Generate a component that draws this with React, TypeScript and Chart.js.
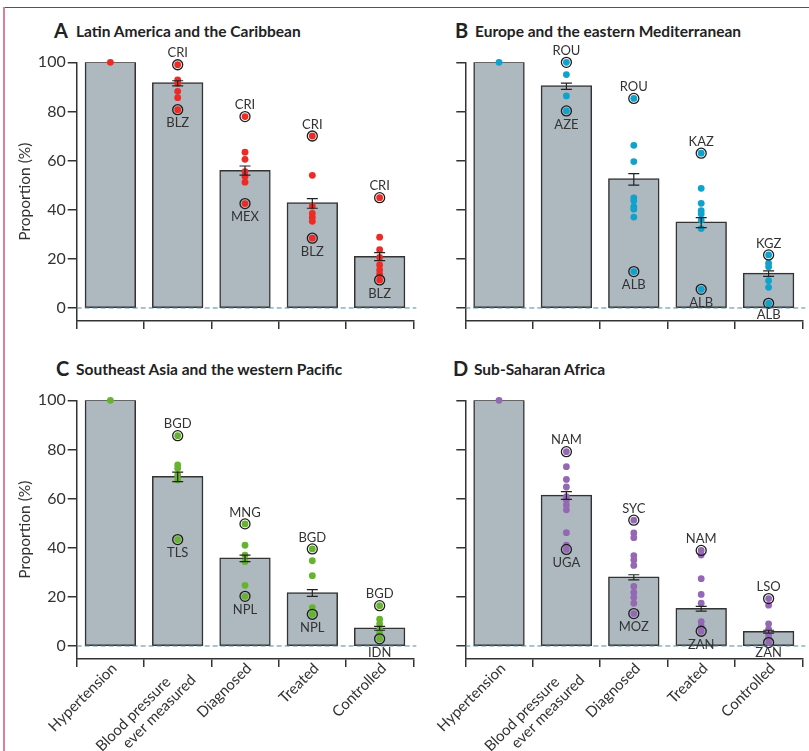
import {useEffect, useRef} from 'react'
import Chart from 'chart.js/auto';

const categories = ['Hypertension', 'Blood pressure ever measured', 'Diagnosed', 'Treated', 'Controlled'];
// trailing nbsp pushes the first line back along the slant, as in the original
const tickLabels = ['Hypertension', ['Blood pressure\u00a0\u00a0\u00a0\u00a0\u00a0', 'ever measured'], 'Diagnosed', 'Treated', 'Controlled'];
const yTicks = [0, 20, 40, 60, 80, 100];

// A - Latin America and the Caribbean
const latinBars = [100, 91.6, 55.9, 42.7, 20.9];
const latinErrLow = [100, 90.4, 54.1, 40.6, 19.3];
const latinErrHigh = [100, 92.5, 57.8, 44.5, 22.5];
const latinDots = [[100], [92.8, 91.5, 88.2, 85.6], [63.4, 60.5, 55.5, 53.5, 51.2], [54, 41.5, 38.5, 36.9, 35.3], [28.8, 23.7, 20.6, 17.5, 15.5, 13.8]];
const latinTop = [null, 99, 77.9, 70, 44.9];
const latinTopCodes = [null, 'CRI', 'CRI', 'CRI', 'CRI'];
const latinBottom = [null, 80.7, 42.5, 28.4, 11.4];
const latinBottomCodes = [null, 'BLZ', 'MEX', 'BLZ', 'BLZ'];

// B - Europe and the eastern Mediterranean
const europeBars = [100, 90.4, 52.5, 34.9, 14];
const europeErrLow = [100, 89, 50, 32.7, 12.9];
const europeErrHigh = [100, 91.5, 54.7, 36.8, 15.1];
const europeDots = [[100], [95, 86.3], [66.2, 59.6, 44.8, 43.6, 41.2, 40.2, 37], [48.7, 42.6, 39.6, 38.3, 35.8, 32.3], [18.2, 16.8, 11.1, 8.4]];
const europeTop = [null, 100, 85.3, 63, 21.6];
const europeTopCodes = [null, 'ROU', 'ROU', 'KAZ', 'KGZ'];
const europeBottom = [null, 80.2, 14.8, 7.6, 1.9];
const europeBottomCodes = [null, 'AZE', 'ALB', 'ALB', 'ALB'];

// C - Southeast Asia and the western Pacific
const asiaBars = [100, 68.9, 35.7, 21.6, 7.2];
const asiaErrLow = [100, 66.9, 34.3, 20.2, 6.4];
const asiaErrHigh = [100, 70.8, 37, 22.9, 8];
const asiaDots = [[100], [73.7, 72.3, 69.6, 67.6], [41, 37, 34.3, 24.7], [34.7, 28.6, 15.6], [10.9, 9, 6.5, 5.2]];
const asiaTop = [null, 85.6, 49.7, 39.5, 16.4];
const asiaTopCodes = [null, 'BGD', 'MNG', 'BGD', 'BGD'];
const asiaBottom = [null, 43.3, 20.2, 12.9, 2.9];
const asiaBottomCodes = [null, 'TLS', 'NPL', 'NPL', 'IDN'];

// D - Sub-Saharan Africa
const africaBars = [100, 61.3, 28, 15.2, 5.8];
const africaErrLow = [100, 59.7, 26.9, 14.2, 5.2];
const africaErrHigh = [100, 62.8, 29, 16.1, 6.4];
const africaDots = [[100], [73, 67.8, 64.7, 60.8, 59.4, 57.4, 55.4, 46.1, 41], [46, 44.1, 36.8, 35, 32.8, 24.2, 21.8, 19.8, 17.4], [37, 27.4, 21, 17.4, 9.9, 8.1], [16.6, 9, 6.8, 4.5, 3.1]];
const africaTop = [null, 79.1, 51.2, 38.9, 19.3];
const africaTopCodes = [null, 'NAM', 'SYC', 'NAM', 'LSO'];
const africaBottom = [null, 39.3, 13.2, 6, 1.4];
const africaBottomCodes = [null, 'UGA', 'MOZ', 'ZAN', 'ZAN'];

const FONT = 'Lato';
const INK = '#333333';

function toPoints(values) {
  return values.flatMap((v, i) => (v === null ? [] : [{x: categories[i], y: v}]));
}

function Panel(props) {
  const {left, top, width, height, padTop, padRight, axisWidth, axisHeight, showY, showX, color} = props;
  const {bars, errLow, errHigh, dots, topVals, topCodes, bottomVals, bottomCodes} = props;
  const chartRef = useRef(null);

  useEffect(() => {
    const overlay = {
      id: 'overlay',
      afterDatasetsDraw(chart) {
        const {ctx, chartArea, scales} = chart;
        const x = scales.x;
        const y = scales.y;
        ctx.save();

        // dashed line at zero
        ctx.strokeStyle = '#4f8ba3';
        ctx.lineWidth = 1;
        ctx.setLineDash([5, 3]);
        ctx.beginPath();
        ctx.moveTo(chartArea.left, y.getPixelForValue(0));
        ctx.lineTo(chartArea.right + 3, y.getPixelForValue(0));
        ctx.stroke();
        ctx.setLineDash([]);

        // error bars
        ctx.strokeStyle = '#222222';
        ctx.lineWidth = 1.2;
        bars.forEach((b, i) => {
          if (errLow[i] === errHigh[i]) return;
          const cx = x.getPixelForValue(i);
          const lo = y.getPixelForValue(errLow[i]);
          const hi = y.getPixelForValue(errHigh[i]);
          ctx.beginPath();
          ctx.moveTo(cx - 5.5, hi);
          ctx.lineTo(cx + 5.5, hi);
          ctx.moveTo(cx, hi);
          ctx.lineTo(cx, lo);
          ctx.moveTo(cx - 5.5, lo);
          ctx.lineTo(cx + 5.5, lo);
          ctx.stroke();
        });

        // country codes above the highest and below the lowest ring
        ctx.font = `13px ${FONT}`;
        ctx.fillStyle = INK;
        ctx.textAlign = 'center';
        ctx.textBaseline = 'middle';
        topVals.forEach((v, i) => {
          if (v === null) return;
          ctx.fillText(topCodes[i], x.getPixelForValue(i), y.getPixelForValue(v) - 11.5);
        });
        bottomVals.forEach((v, i) => {
          if (v === null) return;
          // low labels stop just short of the x axis line
          const labelY = Math.min(y.getPixelForValue(v) + 13.5, y.getPixelForValue(0) + 6.4);
          ctx.fillText(bottomCodes[i], x.getPixelForValue(i), labelY);
        });
        ctx.restore();
      },
    };

    const myChart = new Chart(chartRef.current, {
      data: {
        labels: categories,
        datasets: [
          {
            type: 'line',
            data: [...dots.flatMap((list, i) => list.map((v) => ({x: categories[i], y: v}))), ...toPoints(topVals), ...toPoints(bottomVals)],
            showLine: false,
            pointRadius: 3.4,
            pointBackgroundColor: color,
            pointBorderWidth: 0,
            clip: false,
            order: 2,
          },
          {
            type: 'line',
            data: [...toPoints(topVals), ...toPoints(bottomVals)],
            showLine: false,
            pointRadius: 5,
            pointBackgroundColor: 'transparent',
            pointBorderColor: '#1c1c1c',
            pointBorderWidth: 1.3,
            clip: false,
            order: 1,
          },
          {
            type: 'bar',
            data: bars,
            backgroundColor: '#aeb8bf',
            borderColor: INK,
            borderWidth: 1.5,
            borderSkipped: false,
            inflateAmount: 0.75,
            categoryPercentage: 0.74,
            barPercentage: 1,
            order: 3,
          },
        ],
      },
      options: {
        animation: false,
        responsive: false,
        layout: {padding: {top: padTop, right: padRight, left: 0, bottom: 0}},
        plugins: {legend: {display: false}, tooltip: {enabled: false}},
        scales: {
          x: {
            type: 'category',
            offset: true,
            afterFit: (scale) => { scale.height = axisHeight; },
            border: {color: INK, width: 1.5},
            grid: {drawOnChartArea: false, offset: true, tickLength: 8, color: INK, lineWidth: 1.5},
            ticks: {
              display: showX,
              autoSkip: false,
              maxRotation: 45,
              minRotation: 45,
              padding: -7,
              labelOffset: 4,
              color: INK,
              font: {family: FONT, size: 15, lineHeight: 1.1},
              callback: (value, index) => tickLabels[index],
            },
          },
          y: {
            min: -5.3,
            max: 100,
            afterBuildTicks: (scale) => { scale.ticks = yTicks.map((v) => ({value: v})); },
            afterFit: (scale) => { scale.width = axisWidth; },
            border: {color: INK, width: 1.5},
            grid: {drawOnChartArea: false, tickLength: 9, color: INK, lineWidth: 1.5},
            ticks: {display: showY, padding: 2, color: INK, font: {family: FONT, size: 16}},
            title: {display: showY, text: 'Proportion (%)', color: INK, font: {family: FONT, size: 15.5}, padding: {top: 16, bottom: 0}},
          },
        },
      },
      plugins: [overlay],
    });

    return () => {
      myChart.destroy();
    };
  }, []);

  return <canvas ref={chartRef} width={width} height={height} style={{position: 'absolute', left, top}} />
}

function Title({x, textX, y, letter, text}) {
  return (
    <>
      <div style={{position: 'absolute', left: x, top: y - 3, fontFamily: FONT, fontWeight: 700, fontSize: 20, lineHeight: '24px', color: '#222'}}>{letter}</div>
      <div style={{position: 'absolute', left: textX, top: y, fontFamily: FONT, fontWeight: 700, fontSize: 15.5, lineHeight: '20px', color: '#222', whiteSpace: 'nowrap'}}>{text}</div>
    </>
  )
}

export default function App() {
  const topRow = {top: 40, height: 295, padTop: 22.3, axisHeight: 14};
  const bottomRow = {top: 378, height: 373, padTop: 22.3, axisHeight: 92};
  const leftCol = {left: 0, width: 425, padRight: 11.7, axisWidth: 76.7, showY: true};
  const rightCol = {left: 425, width: 384, padRight: 6.7, axisWidth: 40.3, showY: false};

  return (
    <div style={{position: 'absolute', left: 0, top: 0, width: 809, height: 751, overflow: 'hidden', background: '#fff'}}>
      <div style={{position: 'absolute', left: 3, top: 7, width: 806, height: 1, background: '#b5234f'}} />
      <div style={{position: 'absolute', left: 3, top: 7, width: 2, height: 744, background: '#d9809f'}} />

      <Title x={54} textX={76} y={21} letter="A" text="Latin America and the Caribbean" />
      <Title x={455} textX={475} y={21} letter="B" text="Europe and the eastern Mediterranean" />
      <Title x={56} textX={76} y={359} letter="C" text="Southeast Asia and the western Pacific" />
      <Title x={453} textX={474} y={359} letter="D" text="Sub-Saharan Africa" />

      <Panel {...topRow} {...leftCol} showX={false} color="#ee2a24" bars={latinBars} errLow={latinErrLow} errHigh={latinErrHigh} dots={latinDots} topVals={latinTop} topCodes={latinTopCodes} bottomVals={latinBottom} bottomCodes={latinBottomCodes} />
      <Panel {...topRow} {...rightCol} showX={false} color="#0ea2cc" bars={europeBars} errLow={europeErrLow} errHigh={europeErrHigh} dots={europeDots} topVals={europeTop} topCodes={europeTopCodes} bottomVals={europeBottom} bottomCodes={europeBottomCodes} />
      <Panel {...bottomRow} {...leftCol} showX={true} color="#66b32e" bars={asiaBars} errLow={asiaErrLow} errHigh={asiaErrHigh} dots={asiaDots} topVals={asiaTop} topCodes={asiaTopCodes} bottomVals={asiaBottom} bottomCodes={asiaBottomCodes} />
      <Panel {...bottomRow} {...rightCol} showX={true} color="#9468b3" bars={africaBars} errLow={africaErrLow} errHigh={africaErrHigh} dots={africaDots} topVals={africaTop} topCodes={africaTopCodes} bottomVals={africaBottom} bottomCodes={africaBottomCodes} />
    </div>
  )
}
